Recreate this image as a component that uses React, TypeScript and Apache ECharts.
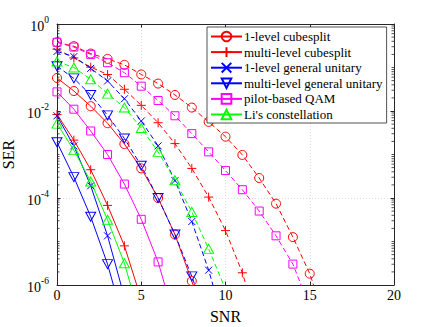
import React, { useEffect, useRef } from "react";
import * as echarts from "echarts";

// SNR values (x)
const snr = [0, 1, 2, 3, 4, 5, 6, 7, 8, 9, 10, 11, 12, 13, 14, 15, 16];

// Solid curves
const cube1Solid = [0.0575, 0.0288, 0.0129, 0.00525, 0.00174, 4.79e-4, 1.0e-4, 1.45e-5, 1.23e-6, 7.94e-8];
const cubeMSolid = [0.00832, 0.00214, 4.47e-4, 6.76e-5, 7.94e-6, 4.68e-7];
const unit1Solid = [0.00776, 0.00158, 1.91e-4, 1.35e-5, 5.25e-7];
const unitMSolid = [0.00191, 3.02e-4, 3.72e-5, 3.02e-6, 1.26e-7];
const pilotSolid = [0.0275, 0.011, 0.00347, 0.001, 2.09e-4, 3.24e-5, 3.39e-6, 1.58e-7];
const liSolid = [0.00513, 0.00126, 2.4e-4, 3.16e-5, 3.16e-6, 1.41e-7];

// Dashed curves
const cube1Dashed = [0.38, 0.309, 0.209, 0.158, 0.115, 0.0692, 0.0427, 0.0234, 0.012, 0.00562, 0.00257, 9.77e-4, 2.88e-4, 7.41e-5, 1.26e-5, 1.82e-6, 1.26e-7];
const cubeMDashed = [0.263, 0.166, 0.102, 0.0692, 0.0316, 0.0135, 0.00537, 0.00178, 4.79e-4, 1.05e-4, 1.78e-5, 1.91e-6, 1.0e-7];
const unit1Dashed = [0.234, 0.178, 0.0955, 0.049, 0.0191, 0.00589, 0.00158, 2.51e-4, 2.88e-5, 2.19e-6, 1.0e-7];
const unitMDashed = [0.107, 0.0562, 0.0234, 0.00794, 0.00234, 5.5e-4, 1.0e-4, 1.45e-5, 1.58e-6, 1.26e-7];
const pilotDashed = [0.38, 0.295, 0.2, 0.129, 0.0759, 0.0372, 0.0174, 0.00776, 0.00302, 0.00115, 4.27e-4, 1.55e-4, 5.01e-5, 1.35e-5, 3.02e-6, 3.16e-7];
const liDashed = [0.138, 0.1, 0.0537, 0.0251, 0.012, 0.00407, 0.00115, 2.57e-4, 4.79e-5, 6.76e-6, 7.94e-7];

const names = [
  "1-level cubesplit",
  "multi-level cubesplit",
  "1-level general unitary",
  "multi-level general unitary",
  "pilot-based QAM",
  "Li's constellation",
];

const xTicks = [0, 5, 10, 15, 20];
const yDecades = [-6, -5, -4, -3, -2, -1];
const minorMultipliers = [1, 2, 3, 4, 5, 6, 7, 8, 9];

const FONT = "Liberation Serif";
const AXIS = "#262626";

const RED = "#ff0000";
const BLUE = "#0000ff";
const MAG = "#ff00ff";
const GRN = "#00ff00";

const PLUS = "path://M5,0L5,10M0,5L10,5";
const CROSS = "path://M0,0L10,10M0,10L10,0";

type Sty = { color: string; symbol: string; size: number | number[]; rotate?: number };
const styles: Sty[] = [
  { color: RED, symbol: "circle", size: 9 },
  { color: RED, symbol: PLUS, size: 9 },
  { color: BLUE, symbol: CROSS, size: 7 },
  { color: BLUE, symbol: "triangle", size: [10, 9], rotate: 180 },
  { color: MAG, symbol: "rect", size: 8 },
  { color: GRN, symbol: "triangle", size: [10, 9] },
];

function mk(name: string, vals: number[], s: Sty, dashed: boolean) {
  return {
    name,
    type: "line",
    xAxisIndex: 0,
    yAxisIndex: 0,
    data: vals.map((v, i) => [snr[i], v]),
    symbol: s.symbol,
    symbolSize: s.size,
    symbolRotate: s.rotate ?? 0,
    showAllSymbol: true,
    clip: true,
    lineStyle: { color: s.color, width: 1, type: dashed ? [5, 3] : "solid" },
    itemStyle: { color: "rgba(0,0,0,0)", borderColor: s.color, borderWidth: 1 },
    emphasis: { disabled: true },
    z: 3,
  };
}

export default function App() {
  const ref = useRef<HTMLDivElement>(null);
  useEffect(() => {
    const chart = echarts.init(ref.current!, null, { renderer: "svg" });
    const solids = [cube1Solid, cubeMSolid, unit1Solid, unitMSolid, pilotSolid, liSolid];
    const dashes = [cube1Dashed, cubeMDashed, unit1Dashed, unitMDashed, pilotDashed, liDashed];
    const series: any[] = [];
    names.forEach((n, i) => {
      series.push(mk(n, solids[i], styles[i], false));
    });
    names.forEach((n, i) => {
      series.push(mk(n + " ", dashes[i], styles[i], true));
    });
    const minorTicks: number[] = [];
    yDecades.forEach((d) =>
      minorMultipliers.forEach((m) => {
        const v = m * Math.pow(10, d);
        if (d % 2 !== 0 || m !== 1) minorTicks.push(v);
      })
    );
    series.push({
      type: "custom",
      silent: true,
      clip: false,
      xAxisIndex: 0,
      yAxisIndex: 0,
      data: minorTicks.map((v) => [0, v]),
      renderItem: (params: any, api: any) => {
        const v = api.value(1);
        const l = api.coord([xTicks[0], v]);
        const r = api.coord([xTicks[xTicks.length - 1], v]);
        const st = { stroke: AXIS, lineWidth: 0.8 };
        return {
          type: "group",
          children: [
            { type: "line", shape: { x1: l[0], y1: l[1], x2: l[0] + 2.5, y2: l[1] }, style: st },
            { type: "line", shape: { x1: r[0], y1: r[1], x2: r[0] - 2.5, y2: r[1] }, style: st },
          ],
        };
      },
      z: 4,
    });

    const option: any = {
      animation: false,
      backgroundColor: "#ffffff",
      textStyle: { fontFamily: FONT },
      grid: { left: 57, right: 42, top: 24, bottom: 42, containLabel: false, outerBoundsMode: "none" },
      legend: {
        show: true,
        data: names,
        orient: "vertical",
        left: 207,
        top: 27,
        padding: [3, 4, 2, 3],
        itemGap: 2.6,
        itemWidth: 31,
        itemHeight: 12,
        backgroundColor: "#ffffff",
        borderColor: AXIS,
        borderWidth: 0.8,
        borderRadius: 0,
        formatter: (n: string) => `{t|${n}}`,
        textStyle: {
          fontFamily: FONT,
          fontSize: 13,
          color: "#000",
          rich: { t: { fontFamily: FONT, fontSize: 13, lineHeight: 13, color: "#000", padding: [0, 0, 0, -3] } },
        },
        selectedMode: false,
        z: 10,
      },
      xAxis: [
        {
          type: "value",
          min: xTicks[0],
          max: xTicks[xTicks.length - 1],
          interval: 5,
          name: "SNR",
          nameLocation: "middle",
          nameGap: 23,
          nameTextStyle: { fontFamily: FONT, fontSize: 16, color: "#000" },
          axisLine: { show: true, lineStyle: { color: AXIS, width: 1 } },
          axisTick: { show: true, inside: true, length: 3.5, lineStyle: { color: AXIS } },
          axisLabel: {
            margin: 3,
            formatter: (v: number) => `{n|${v}}`,
            rich: { n: { fontFamily: FONT, fontSize: 14, color: "#000" } },
          },
          splitLine: { show: true, lineStyle: { color: "#d4d4d4", type: [1, 2], width: 0.8 } },
        },
        {
          type: "value",
          position: "top",
          min: xTicks[0],
          max: xTicks[xTicks.length - 1],
          interval: 5,
          axisLine: { show: true, onZero: false, lineStyle: { color: AXIS, width: 1 } },
          axisTick: { show: true, inside: true, length: 3.5, lineStyle: { color: AXIS } },
          axisLabel: { show: false },
          splitLine: { show: false },
        },
      ],
      yAxis: [
        {
          type: "log",
          logBase: 100,
          min: 1e-6,
          max: 1,
          splitNumber: 3,
          name: "SER",
          nameLocation: "middle",
          nameGap: 36,
          nameRotate: 90,
          nameTextStyle: { fontFamily: FONT, fontSize: 16, color: "#000" },
          axisLine: { show: true, lineStyle: { color: AXIS, width: 1 } },
          axisTick: { show: true, inside: true, length: 3.5, lineStyle: { color: AXIS } },
          axisLabel: {
            margin: 8,
            color: "#000",
            fontFamily: FONT,
            formatter: (v: number) => `{b|10}{s|${Math.round(Math.log10(v))}}`,
            rich: {
              b: { fontFamily: FONT, fontSize: 14, lineHeight: 18, verticalAlign: "bottom", color: "#000" },
              s: { fontFamily: FONT, fontSize: 9.5, lineHeight: 10, verticalAlign: "top", color: "#000" },
            },
          },
          splitLine: { show: true, lineStyle: { color: "#d4d4d4", type: [1, 2], width: 0.8 } },
        },
        {
          type: "log",
          logBase: 100,
          min: 1e-6,
          max: 1,
          splitNumber: 3,
          position: "right",
          axisLine: { show: true, onZero: false, lineStyle: { color: AXIS, width: 1 } },
          axisTick: { show: true, inside: true, length: 3.5, lineStyle: { color: AXIS } },
          axisLabel: { show: false },
          splitLine: { show: false },
        },
      ],
      series,
    };
    chart.setOption(option);
    return () => chart.dispose();
  }, []);
  return <div ref={ref} style={{ position: "fixed", left: 0, top: 0, width: 436, height: 327 }} />;
}
